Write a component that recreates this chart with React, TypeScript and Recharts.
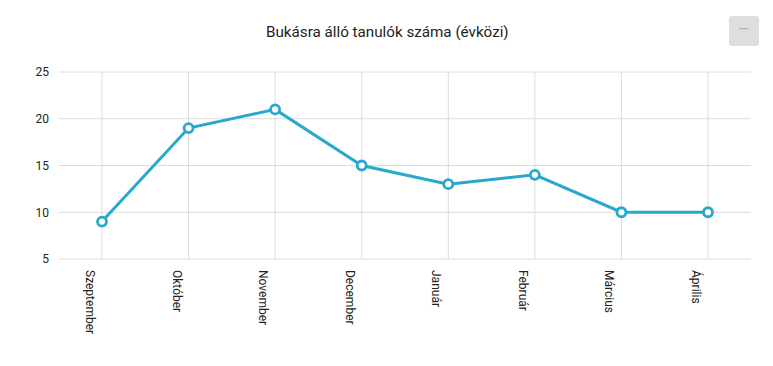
import { LineChart, Line, XAxis, YAxis, CartesianGrid } from "recharts";

/* ─── Adatok ─── */

const honapok = [
  "Szeptember",
  "Október",
  "November",
  "December",
  "Január",
  "Február",
  "Március",
  "Április",
];

const bukasraAllok = [9, 19, 21, 15, 13, 14, 10, 10];

const yTicks = [5, 10, 15, 20, 25];

const data = honapok.map((honap, i) => ({ honap, ertek: bukasraAllok[i] }));

const LINE_COLOR = "#28a8cd";
const GRID_COLOR = "#dcdcdc";

/* ─── Elforgatott X tengely felirat ─── */

function RotatedTick({ x, y, payload }: { x?: number; y?: number; payload?: { value: string } }) {
  const bx = (x ?? 0) - 16;
  const by = (y ?? 0) + 3;
  return (
    <text
      x={bx}
      y={by}
      transform={`rotate(90, ${bx}, ${by})`}
      textAnchor="start"
      fontSize={12}
      fontFamily="Roboto, sans-serif"
      fill="#222"
    >
      {payload?.value}
    </text>
  );
}

export default function App() {
  return (
    <div
      style={{
        position: "absolute",
        left: 0,
        top: 0,
        width: 773,
        height: 366,
        background: "#fff",
        fontFamily: "Roboto, sans-serif",
      }}
    >
      {/* Cím */}
      <div
        style={{
          position: "absolute",
          left: 266,
          top: 23,
          fontSize: 15.2,
          color: "#222",
          whiteSpace: "nowrap",
        }}
      >
        Bukásra álló tanulók száma (évközi)
      </div>

      {/* Menü gomb */}
      <div
        style={{
          position: "absolute",
          left: 729,
          top: 16,
          width: 30,
          height: 30,
          borderRadius: 3,
          background: "#dedede",
          color: "#777",
          fontSize: 12,
          lineHeight: "26px",
          textAlign: "center",
        }}
      >
        ···
      </div>

      <LineChart
        width={773}
        height={366}
        data={data}
        margin={{ top: 72, right: 22, left: 0, bottom: 0 }}
      >
        {/* syncWithTicks: csak a tick-eknél legyen rácsvonal, a szélein ne */}
        <CartesianGrid stroke={GRID_COLOR} strokeWidth={1} syncWithTicks />
        <XAxis
          dataKey="honap"
          interval={0}
          axisLine={false}
          tickLine={false}
          padding={{ left: 43, right: 43 }}
          tick={<RotatedTick />}
          height={107}
        />
        <YAxis
          domain={[5, 25]}
          ticks={yTicks}
          width={59}
          axisLine={false}
          tickLine={false}
          tickSize={6}
          tickMargin={4}
          tick={{ fontSize: 12, fill: "#222", fontFamily: "Roboto, sans-serif" }}
        />
        <Line
          type="linear"
          dataKey="ertek"
          stroke={LINE_COLOR}
          strokeWidth={3}
          dot={{ r: 4.5, fill: "#fff", stroke: LINE_COLOR, strokeWidth: 2.8 }}
          activeDot={false}
          isAnimationActive={false}
        />
      </LineChart>
    </div>
  );
}
